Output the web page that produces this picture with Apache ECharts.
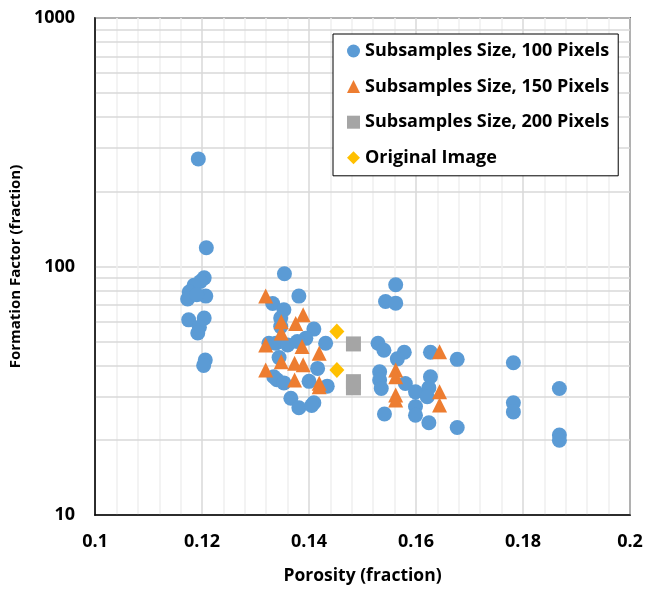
<!DOCTYPE html>
<html>
<head>
<meta charset="utf-8">
<script src="https://cdn.jsdelivr.net/npm/echarts@6/dist/echarts.min.js"></script>
<style>
  html, body { margin: 0; padding: 0; background: #fff; }
  #chart { width: 648px; height: 591px; }
</style>
</head>
<body>
<div id="chart"></div>
<script>
// Porosity (fraction) vs formation factor for each sampling scheme
const subsamples100 = [
  [0.1193, 271], [0.1208, 119], [0.1204, 90], [0.1197, 87], [0.1185, 84],
  [0.1176, 79], [0.1173, 74], [0.1207, 76], [0.1190, 77], [0.1175, 61],
  [0.1204, 62], [0.1195, 57], [0.1192, 54], [0.1206, 42], [0.1203, 40],
  [0.1354, 93.5], [0.1381, 76], [0.1332, 71], [0.1353, 67], [0.1347, 62],
  [0.1347, 57.3], [0.1409, 56], [0.1394, 51.4], [0.1431, 49.1], [0.1325, 49.1],
  [0.1338, 49.1], [0.1360, 48.3], [0.1378, 49.9], [0.1344, 43], [0.1416, 38.9],
  [0.1334, 36], [0.1340, 35], [0.1353, 34], [0.1400, 34.5], [0.1434, 33],
  [0.1366, 29.5], [0.1381, 27], [0.1409, 28.3], [0.1405, 27.6],
  [0.1562, 84.4], [0.1543, 72.3], [0.1562, 71.2], [0.1529, 49.1], [0.1540, 46],
  [0.1578, 45.2], [0.1565, 42.5], [0.1627, 45.2], [0.1677, 42.3], [0.1782, 41],
  [0.1532, 37.7], [0.1532, 34.9], [0.1535, 32.3], [0.1580, 33.8], [0.1599, 31.3],
  [0.1627, 36], [0.1624, 32.5], [0.1621, 29.9], [0.1599, 27.3], [0.1599, 25.2],
  [0.1541, 25.5], [0.1624, 23.5], [0.1677, 22.5], [0.1782, 28.3], [0.1782, 26],
  [0.1868, 32.3], [0.1868, 21], [0.1868, 20]
];
const subsamples150 = [
  [0.1319, 76], [0.1348, 60], [0.1348, 54], [0.1375, 59], [0.1389, 64],
  [0.1319, 48.3], [0.1387, 47.6], [0.1419, 44.8], [0.1348, 41.4], [0.1373, 40.8],
  [0.1389, 40.2], [0.1319, 38.3], [0.1373, 34.9], [0.1419, 33.9], [0.1419, 32.8],
  [0.1562, 38.3], [0.1562, 36], [0.1562, 30.4], [0.1562, 29],
  [0.1644, 45.4], [0.1644, 31.3], [0.1644, 27.7]
];
const subsamples200 = [[0.1483, 48.8], [0.1483, 34.4], [0.1483, 32.5]];
const originalImage = [[0.1452, 54.7], [0.1452, 38.3]];

// Intermediate lines of the log grid (2..9 within each decade)
const logGridValues = [20, 30, 40, 50, 60, 70, 80, 90, 200, 300, 400, 500, 600, 700, 800, 900];

const seriesNames = [
  'Subsamples Size, 100 Pixels',
  'Subsamples Size, 150 Pixels',
  'Subsamples Size, 200 Pixels',
  'Original Image'
];

const FONT = '"Open Sans", sans-serif';
const chart = echarts.init(document.getElementById('chart'), null, { renderer: 'canvas' });

chart.setOption({
  animation: false,
  backgroundColor: '#fff',
  grid: {
    left: 94, right: 18, top: 18, bottom: 76,
    show: true, borderColor: '#000', borderWidth: 1.5, backgroundColor: 'transparent'
  },
  xAxis: {
    type: 'value', min: 0.1, max: 0.2, interval: 0.02,
    name: 'Porosity (fraction)', nameLocation: 'middle', nameGap: 52,
    nameTextStyle: { fontFamily: FONT, fontWeight: 'bold', fontSize: 17.5, color: '#000' },
    axisLine: { show: true, lineStyle: { color: '#000', width: 1.5 } },
    axisTick: { show: false },
    axisLabel: { margin: 18, fontFamily: FONT, fontWeight: 'bold', fontSize: 18, color: '#000' },
    splitLine: { show: true, lineStyle: { color: '#d9d9d9', width: 1.5 } },
    minorTick: { show: false, splitNumber: 5 },
    minorSplitLine: { show: true, lineStyle: { color: '#efefef', width: 1.5 } }
  },
  yAxis: {
    type: 'log', logBase: 10, min: 10, max: 1000,
    name: 'Formation Factor (fraction)', nameLocation: 'middle', nameGap: 58,
    nameTextStyle: { fontFamily: FONT, fontWeight: 'bold', fontSize: 15, color: '#000' },
    axisLine: { show: true, lineStyle: { color: '#000', width: 1.5 } },
    axisTick: { show: false },
    axisLabel: {
      margin: 20, fontFamily: FONT, fontWeight: 'bold', fontSize: 18, color: '#000',
      formatter: v => String(v)
    },
    splitLine: { show: true, lineStyle: { color: '#d9d9d9', width: 1.5 } }
  },
  legend: {
    data: seriesNames,
    z: 20,
    orient: 'vertical', left: 333, top: 34,
    padding: [8, 9, 9, 14],
    itemGap: 17.6, itemWidth: 13, itemHeight: 13,
    backgroundColor: '#fff', borderColor: '#000', borderWidth: 1,
    textStyle: { fontFamily: FONT, fontWeight: 'bold', fontSize: 18, color: '#000', padding: [0, 0, 0, 0] }
  },
  series: [
    {
      name: 'log grid', type: 'scatter', data: [], silent: true, z: 0,
      markLine: {
        z: 0,
        silent: true, symbol: 'none', animation: false,
        label: { show: false },
        lineStyle: { color: '#d9d9d9', width: 1.5, type: 'solid' },
        data: logGridValues.map(v => ({ yAxis: v }))
      }
    },
    {
      name: seriesNames[0], type: 'scatter', data: subsamples100, z: 3,
      symbol: 'circle', symbolSize: 15,
      itemStyle: { color: '#5b9bd5', opacity: 1 }
    },
    {
      name: seriesNames[1], type: 'scatter', data: subsamples150, z: 4,
      symbol: 'triangle', symbolSize: 15,
      itemStyle: { color: '#ed7d31', opacity: 1 }
    },
    {
      name: seriesNames[2], type: 'scatter', data: subsamples200, z: 5,
      symbol: 'rect', symbolSize: 15,
      itemStyle: { color: '#a5a5a5', opacity: 1 }
    },
    {
      name: seriesNames[3], type: 'scatter', data: originalImage, z: 6,
      symbol: 'diamond', symbolSize: [15, 16],
      itemStyle: { color: '#ffc000', opacity: 1 }
    }
  ]
});
</script>
</body>
</html>
